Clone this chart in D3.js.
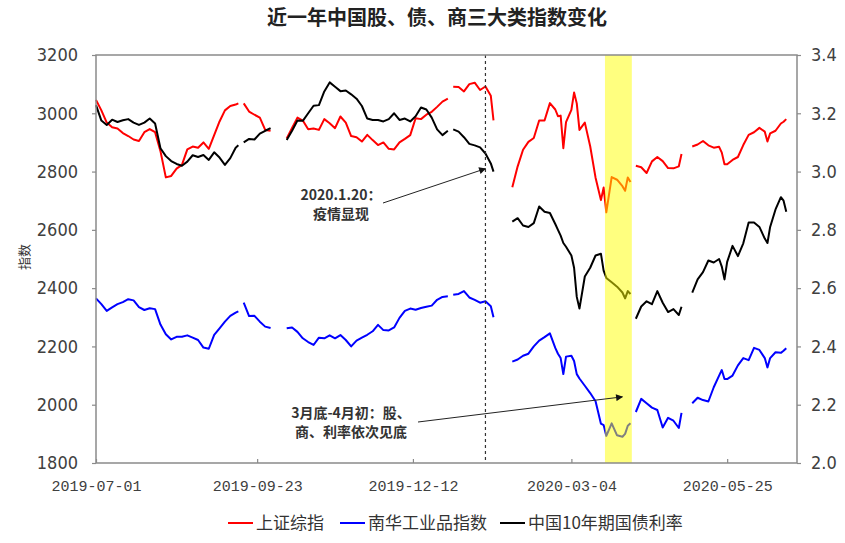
<!DOCTYPE html>
<html>
<head>
<meta charset="utf-8">
<script src="https://cdn.jsdelivr.net/npm/d3@7"></script>
<style>
  body { margin: 0; background: #fff; }
  svg { display: block; }
</style>
</head>
<body>
<svg id="chart" width="845" height="543"></svg>
<script>
// ---- data -------------------------------------------------------------
const chartTitle = "近一年中国股、债、商三大类指数变化";
const seriesNames = ["上证综指", "南华工业品指数", "中国10年期国债利率"];
const leftAxisTitle = "指数";
const xTickDates = ["2019-07-01", "2019-09-23", "2019-12-12", "2020-03-04", "2020-05-25"];
const leftTicks = [1800, 2000, 2200, 2400, 2600, 2800, 3000, 3200];
const rightTicks = [2.0, 2.2, 2.4, 2.6, 2.8, 3.0, 3.2, 3.4];

// sampled trading days; null rows are market holidays (line breaks)
const dates = [
  "2019-07-01","2019-07-03","2019-07-05","2019-07-09","2019-07-11","2019-07-15","2019-07-17","2019-07-19",
  "2019-07-23","2019-07-25","2019-07-29","2019-07-31","2019-08-02","2019-08-06","2019-08-08","2019-08-12",
  "2019-08-14","2019-08-16","2019-08-20","2019-08-22","2019-08-26","2019-08-28","2019-08-30","2019-09-03",
  "2019-09-05","2019-09-09","2019-09-11","2019-09-12","2019-09-13",
  "2019-09-16","2019-09-18","2019-09-20","2019-09-24","2019-09-26","2019-09-30","2019-10-01",
  "2019-10-08","2019-10-10","2019-10-14","2019-10-16","2019-10-18","2019-10-22","2019-10-24","2019-10-28",
  "2019-10-30","2019-11-01","2019-11-05","2019-11-07","2019-11-11","2019-11-13","2019-11-15","2019-11-19",
  "2019-11-21","2019-11-25","2019-11-27","2019-11-29","2019-12-03","2019-12-05","2019-12-09","2019-12-11",
  "2019-12-13","2019-12-17","2019-12-19","2019-12-23","2019-12-25","2019-12-27","2019-12-31","2020-01-01",
  "2020-01-02","2020-01-06","2020-01-08","2020-01-10","2020-01-14","2020-01-16","2020-01-20","2020-01-22",
  "2020-01-23","2020-01-24",
  "2020-02-03","2020-02-05","2020-02-07","2020-02-11","2020-02-13","2020-02-17","2020-02-19","2020-02-21",
  "2020-02-25","2020-02-26","2020-02-27","2020-02-28","2020-03-02","2020-03-04","2020-03-05","2020-03-06",
  "2020-03-09","2020-03-11","2020-03-13","2020-03-17","2020-03-19","2020-03-20","2020-03-23","2020-03-25",
  "2020-03-27","2020-03-31","2020-04-01","2020-04-02","2020-04-03","2020-04-06",
  "2020-04-07","2020-04-09","2020-04-13","2020-04-15","2020-04-17","2020-04-21","2020-04-23","2020-04-27",
  "2020-04-29","2020-04-30","2020-05-01",
  "2020-05-06","2020-05-08","2020-05-12","2020-05-14","2020-05-18","2020-05-20","2020-05-21","2020-05-22",
  "2020-05-25","2020-05-27","2020-05-29","2020-06-02","2020-06-04","2020-06-08","2020-06-10","2020-06-12",
  "2020-06-15","2020-06-16","2020-06-18","2020-06-22","2020-06-23","2020-06-24"
];

// 上证综指 (left axis)
const shanghaiComposite = [
  3046,3010,2968,2952,2948,2932,2922,2910,
  2905,2935,2946,2935,2870,2780,2785,2810,
  2823,2876,2886,2882,2900,2878,2925,2972,
  3010,3025,3030,3034,null,
  3034,3006,2995,2985,2943,2940,null,
  2914,2950,2985,2975,2945,2948,2943,2980,
  2966,2949,2989,2968,2922,2918,2903,2926,
  2908,2891,2900,2878,2876,2900,2912,2925,
  2983,2980,2995,3005,3022,3040,3050,null,
  3091,3090,3075,3100,3105,3080,3092,3060,
  2976,null,
  2746,2818,2875,2902,2915,2975,2975,3035,
  3013,2990,2992,2880,2970,3012,3071,3034,
  2943,2968,2887,2779,2702,2745,2660,2781,
  2772,2750,2734,2780,2764,null,
  2820,2815,2795,2835,2850,2836,2812,2811,
  2818,2860,null,
  2886,2893,2905,2890,2882,2885,2865,2825,
  2825,2840,2850,2891,2926,2935,2950,2937,
  2903,2931,2940,2965,2971,2980
];

// 南华工业品指数 (left axis)
const nanhuaIndustrial = [
  2365,2345,2322,2334,2345,2352,2362,2358,
  2335,2325,2331,2328,2275,2242,2224,2233,
  2233,2238,2230,2222,2196,2192,2240,2262,
  2285,2305,2316,2320,null,
  2350,2304,2305,2285,2268,2263,null,
  2262,2265,2250,2228,2215,2205,2230,2228,
  2238,2228,2239,2222,2200,2220,2230,2240,
  2252,2274,2256,2255,2265,2298,2322,2330,
  2326,2332,2336,2340,2360,2370,2372,null,
  2377,2380,2390,2368,2360,2350,2355,2338,
  2300,null,
  2148,2155,2168,2175,2200,2220,2232,2245,
  2195,2175,2160,2105,2165,2168,2150,2105,
  2090,2065,2040,2012,1935,1930,1893,1936,
  1895,1890,1900,1928,1936,null,
  1975,2020,2005,1990,1982,1922,1955,1945,
  1920,1972,null,
  2005,2024,2016,2011,2060,2100,2119,2088,
  2088,2100,2135,2160,2153,2195,2188,2160,
  2128,2160,2180,2178,2185,2194
];

// 中国10年期国债利率, % (right axis)
const cgb10yYield = [
  3.228,3.175,3.160,3.178,3.170,3.176,3.180,3.168,
  3.160,3.168,3.182,3.165,3.080,3.053,3.036,3.026,
  3.020,3.034,3.056,3.050,3.057,3.040,3.066,3.048,
  3.023,3.046,3.082,3.090,null,
  3.100,3.112,3.110,3.130,3.140,3.149,null,
  3.108,3.140,3.175,3.174,3.200,3.226,3.228,3.275,
  3.306,3.291,3.276,3.278,3.265,3.250,3.225,3.182,
  3.177,3.177,3.172,3.180,3.200,3.177,3.182,3.172,
  3.190,3.220,3.213,3.185,3.145,3.125,3.140,null,
  3.145,3.137,3.118,3.095,3.090,3.083,3.062,3.028,
  3.000,null,
  2.828,2.840,2.815,2.810,2.823,2.880,2.862,2.858,
  2.820,2.800,2.780,2.755,2.742,2.712,2.670,2.570,
  2.530,2.640,2.670,2.712,2.718,2.660,2.635,2.620,
  2.605,2.585,2.565,2.590,2.580,null,
  2.495,2.537,2.555,2.545,2.590,2.550,2.518,2.528,
  2.508,2.536,null,
  2.585,2.630,2.655,2.695,2.688,2.700,2.674,2.630,
  2.690,2.745,2.710,2.754,2.825,2.825,2.810,2.770,
  2.755,2.810,2.870,2.912,2.900,2.862
];

const highlightPeriod = ["2020-03-23", "2020-04-03"];   // 3月底-4月初
const eventDate = "2020-01-20";                          // 疫情显现
const seriesColors = ["#ff0000", "#0000ff", "#000000"];

// ---- layout -------------------------------------------------------------
const svg = d3.select("#chart");
const W = 845, H = 543;
const plot = { left: 96, right: 797, top: 55, bottom: 463 };
const cjk = "'Noto Sans CJK SC', 'Noto Sans', sans-serif";
const narrow = "'Liberation Sans Narrow', 'DejaVu Sans Condensed', 'Liberation Sans', sans-serif";
const mono = "'Liberation Mono', 'DejaVu Sans Mono', monospace";

svg.append("rect").attr("width", W).attr("height", H).attr("fill", "#fff");

// weekday calendar for the category axis
const fmt = d3.utcFormat("%Y-%m-%d");
const axisDays = d3.utcDay.range(new Date(Date.UTC(2019, 6, 1)), new Date(Date.UTC(2020, 6, 1)))
  .filter(d => d.getUTCDay() !== 0 && d.getUTCDay() !== 6)
  .map(fmt);

const x = d3.scalePoint().domain(axisDays).range([plot.left, plot.right]);
const yL = d3.scaleLinear().domain([1800, 3200]).range([plot.bottom, plot.top]);
const yR = d3.scaleLinear().domain([2.0, 3.4]).range([plot.bottom, plot.top]);

// ---- title ----------------------------------------------------------------
svg.append("text")
  .attr("x", 437).attr("y", 18).attr("dy", "0.35em")
  .attr("text-anchor", "middle")
  .attr("font-family", cjk).attr("font-size", 20).attr("font-weight", "bold")
  .attr("fill", "#222")
  .text(chartTitle);

// ---- series -----------------------------------------------------------------
const series = [
  { name: seriesNames[0], values: shanghaiComposite, y: yL, color: seriesColors[0] },
  { name: seriesNames[1], values: nanhuaIndustrial, y: yL, color: seriesColors[1] },
  { name: seriesNames[2], values: cgb10yYield, y: yR, color: seriesColors[2] }
];

const gLines = svg.append("g");
series.forEach(s => {
  const pts = dates.map((d, i) => ({ date: d, v: s.values[i] }));
  const line = d3.line()
    .defined(p => p.v != null)
    .x(p => x(p.date))
    .y(p => s.y(p.v));
  gLines.append("path")
    .datum(pts)
    .attr("fill", "none")
    .attr("stroke", s.color)
    .attr("stroke-width", 2)
    .attr("stroke-linejoin", "round")
    .attr("d", line);
});

// translucent highlight over the lines
const step = x.step();
svg.append("rect")
  .attr("x", x(highlightPeriod[0]) - step / 2)
  .attr("y", plot.top)
  .attr("width", x(highlightPeriod[1]) - x(highlightPeriod[0]) + step)
  .attr("height", plot.bottom - plot.top)
  .attr("fill", "#ffff00")
  .attr("fill-opacity", 0.5);

// event marker
svg.append("line")
  .attr("x1", x(eventDate)).attr("x2", x(eventDate))
  .attr("y1", plot.top).attr("y2", plot.bottom)
  .attr("stroke", "#333").attr("stroke-width", 1.2)
  .attr("stroke-dasharray", "3,3");

// ---- frame and axes -----------------------------------------------------------
const axisColor = "#8a8a8a";
svg.append("rect")
  .attr("x", plot.left).attr("y", plot.top)
  .attr("width", plot.right - plot.left).attr("height", plot.bottom - plot.top)
  .attr("fill", "none").attr("stroke", axisColor).attr("stroke-width", 1.5);

function styleAxis(g, family, size) {
  g.select(".domain").remove();
  g.selectAll(".tick line").attr("stroke", axisColor).attr("stroke-width", 1.2);
  g.selectAll(".tick text")
    .attr("fill", "#404040")
    .attr("font-family", family)
    .attr("font-size", size);
}

svg.append("g")
  .attr("transform", `translate(${plot.left},0)`)
  .call(d3.axisLeft(yL).tickValues(leftTicks).tickSize(4).tickPadding(14).tickFormat(d3.format("d")))
  .call(g => styleAxis(g, narrow, 18));

svg.append("g")
  .attr("transform", `translate(${plot.right},0)`)
  .call(d3.axisRight(yR).tickValues(rightTicks).tickSize(4).tickPadding(10).tickFormat(d3.format(".1f")))
  .call(g => styleAxis(g, narrow, 18));

svg.append("g")
  .attr("transform", `translate(0,${plot.bottom})`)
  .call(d3.axisBottom(x).tickValues(xTickDates).tickSizeInner(-4).tickSizeOuter(0).tickPadding(17))
  .call(g => styleAxis(g, mono, 15));

// left axis title
svg.append("text")
  .attr("transform", "translate(24,257) rotate(-90)")
  .attr("text-anchor", "middle").attr("dy", "0.35em")
  .attr("font-family", cjk).attr("font-size", 13)
  .attr("fill", "#333")
  .text(leftAxisTitle);

// ---- annotations -------------------------------------------------------------------
const defs = svg.append("defs");
defs.append("marker")
  .attr("id", "arrowhead")
  .attr("viewBox", "0 0 10 10")
  .attr("refX", 9).attr("refY", 5)
  .attr("markerWidth", 9).attr("markerHeight", 7)
  .attr("markerUnits", "userSpaceOnUse")
  .attr("orient", "auto")
  .append("path").attr("d", "M0,0 L10,5 L0,10 Z").attr("fill", "#111");

const annotations = [
  { lines: ["2020.1.20：", "疫情显现"], cx: 341, y0: 195, from: [383, 203],
    to: [x("2020-01-20"), yR(3.01)] },
  { lines: ["3月底-4月初：股、", "商、利率依次见底"], cx: 351, y0: 413, from: [418, 422],
    to: [x("2020-03-31"), yL(2027)] }
];

annotations.forEach(a => {
  a.lines.forEach((t, i) => {
    svg.append("text")
      .attr("x", a.cx).attr("y", a.y0 + i * 19).attr("dy", "0.35em")
      .attr("text-anchor", "middle")
      .attr("font-family", cjk).attr("font-size", 14).attr("font-weight", "bold")
      .attr("fill", "#333")
      .text(t);
  });
  svg.append("line")
    .attr("x1", a.from[0]).attr("y1", a.from[1])
    .attr("x2", a.to[0]).attr("y2", a.to[1])
    .attr("stroke", "#222").attr("stroke-width", 1)
    .attr("marker-end", "url(#arrowhead)");
});

// ---- legend --------------------------------------------------------------------------
const legendItems = [
  { x: 228, name: seriesNames[0], color: seriesColors[0] },
  { x: 340, name: seriesNames[1], color: seriesColors[1] },
  { x: 500, name: seriesNames[2], color: seriesColors[2] }
];
const legend = svg.append("g").attr("transform", "translate(0,523)");
legendItems.forEach(it => {
  legend.append("line")
    .attr("x1", it.x).attr("x2", it.x + 25)
    .attr("stroke", it.color).attr("stroke-width", 2);
  legend.append("text")
    .attr("x", it.x + 28).attr("dy", "0.35em")
    .attr("font-family", cjk).attr("font-size", 17)
    .attr("fill", "#333")
    .text(it.name);
});
</script>
</body>
</html>
